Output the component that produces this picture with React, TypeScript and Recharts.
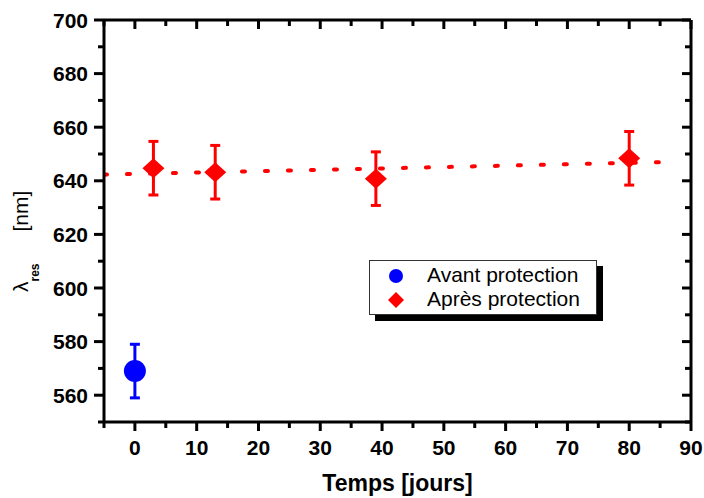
import React from "react";
import { ComposedChart, Scatter, Line, XAxis, YAxis, ErrorBar, Legend } from "recharts";

// values
const avantX = [0];
const avantY = [569];
const avantErr = [10];

const apresX = [3, 13, 39, 80];
const apresY = [644.7, 643.2, 640.8, 648.4];
const apresErr = [10, 10, 10, 10];

// linear fit drawn as a dotted line
const fitX = [-5, 86];
const fitY = [642.3, 647.0];

const xTicks = [-5, 0, 5, 10, 15, 20, 25, 30, 35, 40, 45, 50, 55, 60, 65, 70, 75, 80, 85, 90];
const xLabels = [0, 10, 20, 30, 40, 50, 60, 70, 80, 90];
const yTicks = [550, 560, 570, 580, 590, 600, 610, 620, 630, 640, 650, 660, 670, 680, 690, 700];
const yLabels = [560, 580, 600, 620, 640, 660, 680, 700];

const seriesNames = ["Avant protection", "Après protection"];

const RED = "#ff0000";
const BLUE = "#0000ff";
const FONT = "'Liberation Sans', Arial, sans-serif";

const avantData = avantX.map((x, i) => ({ x, y: avantY[i], err: avantErr[i] }));
const apresData = apresX.map((x, i) => ({ x, y: apresY[i], err: apresErr[i] }));
const fitData = fitX.map((x, i) => ({ x, y: fitY[i] }));

const BottomTick = (props: any) => {
  const { x, y, payload } = props;
  const major = xLabels.includes(payload.value);
  return (
    <g>
      <line x1={x} x2={x} y1={y} y2={y + (major ? 9 : 6)} stroke="#000" strokeWidth={3} />
      {major && (
        <text x={x} y={y + 33} textAnchor="middle" fontSize={21} fontWeight="bold" fill="#000" fontFamily={FONT}>
          {payload.value}
        </text>
      )}
    </g>
  );
};

const TopTick = (props: any) => {
  const { x, y, payload } = props;
  const major = xLabels.includes(payload.value);
  return <line x1={x} x2={x} y1={y} y2={y + (major ? 9 : 6)} stroke="#000" strokeWidth={3} />;
};

const LeftTick = (props: any) => {
  const { x, y, payload } = props;
  const major = yLabels.includes(payload.value);
  return (
    <g>
      <line x1={x} x2={x - (major ? 10 : 6)} y1={y} y2={y} stroke="#000" strokeWidth={3} />
      {major && (
        <text x={x - 16} y={y + 7.5} textAnchor="end" fontSize={21} fontWeight="bold" fill="#000" fontFamily={FONT}>
          {payload.value}
        </text>
      )}
    </g>
  );
};

const RightTick = (props: any) => {
  const { x, y, payload } = props;
  const major = yLabels.includes(payload.value);
  return <line x1={x} x2={x - (major ? 9 : 6)} y1={y} y2={y} stroke="#000" strokeWidth={3} />;
};

const Circle = (props: any) => <circle cx={props.cx} cy={props.cy} r={11} fill={BLUE} />;

const Diamond = (props: any) => {
  const { cx, cy } = props;
  return <polygon points={`${cx - 11},${cy} ${cx},${cy - 10} ${cx + 11},${cy} ${cx},${cy + 10}`} fill={RED} />;
};

const LegendBox = () => (
  <svg width={236} height={64} style={{ display: "block" }}>
    <rect x={6} y={6} width={228} height={55} fill="#000" />
    <rect x={0.5} y={0.5} width={227} height={54} fill="#fff" stroke="#333" strokeWidth={1} />
    <circle cx={27} cy={16} r={7} fill={BLUE} />
    <polygon points="19,40 27,32 35,40 27,48" fill={RED} />
    <text x={58} y={22} fontFamily={FONT} fontSize={21} fill="#000">{seriesNames[0]}</text>
    <text x={58} y={46} fontFamily={FONT} fontSize={21} fill="#000">{seriesNames[1]}</text>
  </svg>
);

const YLabel = () => (
  <text transform="rotate(-90, 28, 292)" x={28} y={292} fontFamily={FONT} fill="#000" fontSize={21}>
    <tspan>λ</tspan>
    <tspan fontSize={12} fontWeight="bold" dy={11}>res</tspan>
    <tspan dy={-11} dx={32}>[nm]</tspan>
  </text>
);

const XLabel = () => (
  <text x={397.5} y={491} textAnchor="middle" fontFamily={FONT} fontWeight="bold" fontSize={23} fill="#000">
    Temps [jours]
  </text>
);

export default function App() {
  return (
    <div style={{ position: "absolute", left: 0, top: 0, width: 704, height: 498, background: "#fff" }}>
      <ComposedChart
        width={704}
        height={498}
        margin={{ top: 10, right: 3, bottom: 46, left: 44 }}
        style={{ fontFamily: FONT }}
      >
        <XAxis
          type="number"
          dataKey="x"
          domain={[-5, 90]}
          ticks={xTicks}
          interval={0}
          allowDataOverflow
          height={30}
          tickSize={0}
          tickMargin={0}
          tick={<BottomTick />}
          axisLine={{ stroke: "#000", strokeWidth: 3 }}
          label={{ content: () => <XLabel /> }}
        />
        <XAxis
          xAxisId="top"
          orientation="top"
          type="number"
          dataKey="x"
          domain={[-5, 90]}
          ticks={xTicks}
          interval={0}
          allowDataOverflow
          height={10}
          tickSize={0}
          tickMargin={0}
          tick={<TopTick />}
          axisLine={{ stroke: "#000", strokeWidth: 3 }}
        />
        <YAxis
          type="number"
          dataKey="y"
          domain={[550, 700]}
          ticks={yTicks}
          interval={0}
          allowDataOverflow
          width={60}
          tickSize={0}
          tickMargin={0}
          tick={<LeftTick />}
          axisLine={{ stroke: "#000", strokeWidth: 3 }}
          label={{ content: () => <YLabel /> }}
        />
        <YAxis
          yAxisId="right"
          orientation="right"
          type="number"
          dataKey="y"
          domain={[550, 700]}
          ticks={yTicks}
          interval={0}
          allowDataOverflow
          width={10}
          tickSize={0}
          tickMargin={0}
          tick={<RightTick />}
          axisLine={{ stroke: "#000", strokeWidth: 3 }}
        />
        <Line
          data={fitData}
          dataKey="y"
          type="linear"
          stroke={RED}
          strokeWidth={4}
          strokeDasharray="3 20"
          strokeLinecap="round"
          dot={false}
          activeDot={false}
          legendType="none"
          isAnimationActive={false}
        />
        <Scatter name={seriesNames[0]} data={avantData} shape={<Circle />} isAnimationActive={false}>
          <ErrorBar dataKey="err" direction="y" width={5} stroke={BLUE} strokeWidth={3} />
        </Scatter>
        <Scatter name={seriesNames[1]} data={apresData} shape={<Diamond />} isAnimationActive={false}>
          <ErrorBar dataKey="err" direction="y" width={5} stroke={RED} strokeWidth={3} />
        </Scatter>
        <Legend
          layout="vertical"
          align="center"
          verticalAlign="middle"
          wrapperStyle={{ left: 369, top: 260, width: 236, height: 64 }}
          content={() => <LegendBox />}
        />
      </ComposedChart>
    </div>
  );
}
